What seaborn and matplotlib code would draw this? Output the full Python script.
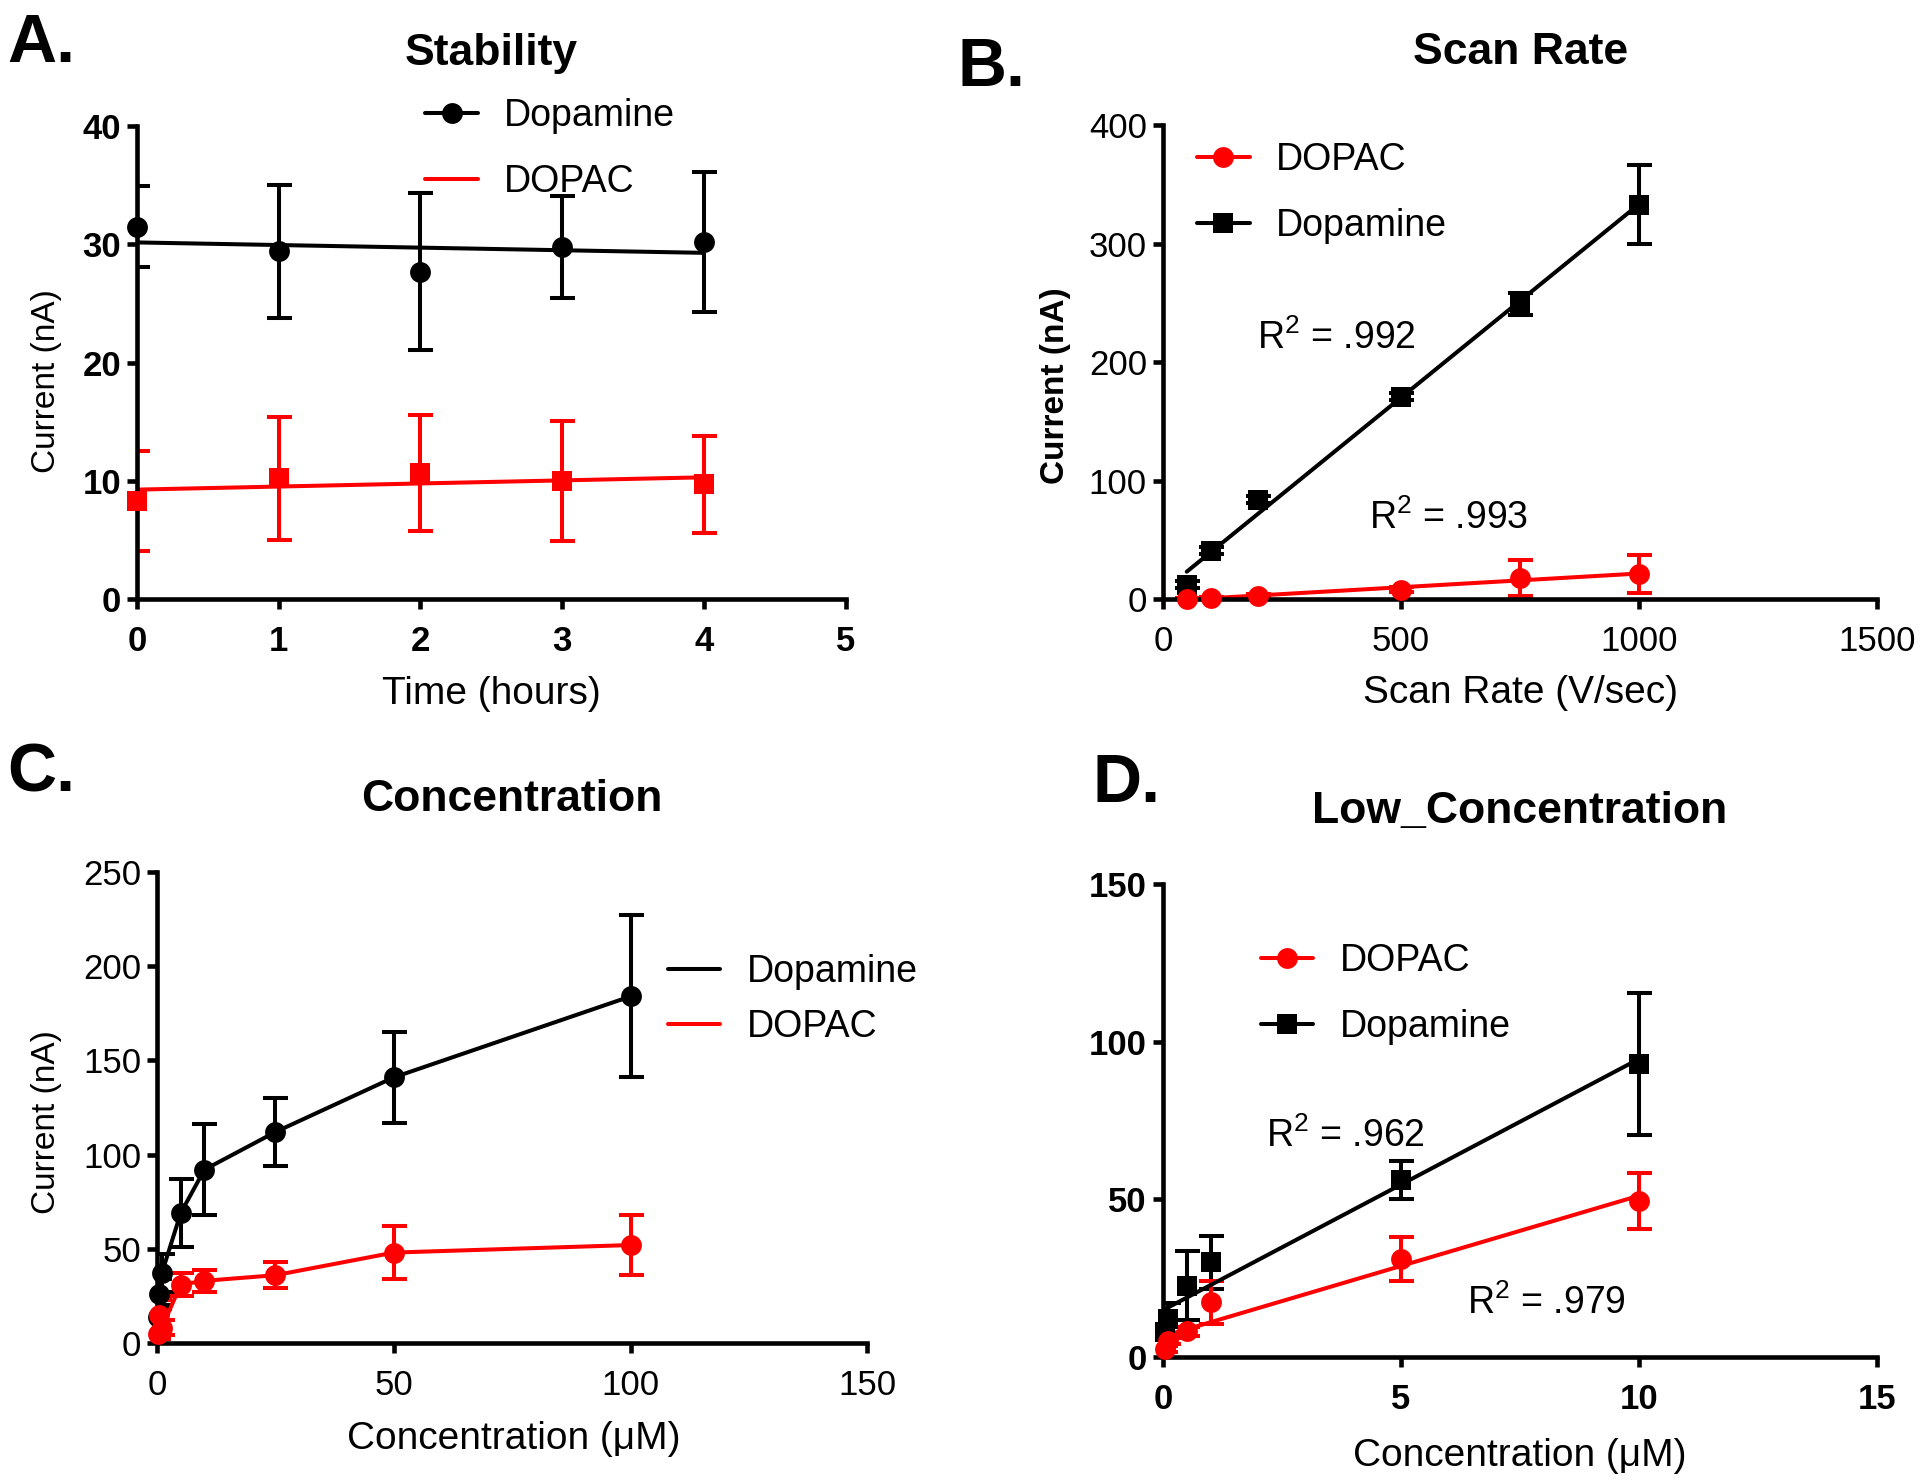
import matplotlib
matplotlib.use("Agg")
import matplotlib.pyplot as plt
import seaborn as sns
from matplotlib.lines import Line2D

# ---- A. Stability ----
stab_hours = [0, 1, 2, 3, 4]
stab_da = [31.5, 29.4, 27.7, 29.8, 30.2]
stab_da_err = [3.4, 5.6, 6.6, 4.3, 5.9]
stab_dopac = [8.3, 10.2, 10.7, 10.0, 9.7]
stab_dopac_err = [4.2, 5.2, 4.9, 5.1, 4.1]

# ---- B. Scan rate ----
scan_rate = [50, 100, 200, 500, 750, 1000]
scan_da = [12, 41, 84, 171, 249, 333]
scan_da_err = [3, 3, 3, 3, 9, 33]
scan_dopac = [0, 1, 3, 8, 18, 21]
scan_dopac_err = [1, 1, 1, 2, 15, 16]

# ---- C. Concentration ----
conc = [0.1, 0.5, 1, 5, 10, 25, 50, 100]
conc_da = [14, 26, 37, 69, 92, 112, 141, 184]
conc_da_err = [6, 8, 10, 18, 24, 18, 24, 43]
conc_dopac = [5, 15, 8, 31, 33, 36, 48, 52]
conc_dopac_err = [3, 8, 4, 6, 6, 7, 14, 16]

# ---- D. Low concentration ----
low_conc = [0.05, 0.1, 0.5, 1, 5, 10]
low_da = [8, 12, 22.6, 30, 56, 93]
low_da_err = [4, 5, 11, 8.5, 6, 22.5]
low_dopac = [2.6, 5, 8.1, 17.4, 31, 49.5]
low_dopac_err = [1, 1, 1.5, 6.8, 7, 8.8]

RED = "#ff0000"
BLACK = "#000000"
LW = 2.9          # data lines / error bars
AX_LW = 3.3       # spines and ticks
MS_CIRCLE = 15
MS_SQUARE = 14
TICK_FS = 25
YLABEL_FS = 24
XLABEL_FS = 28
LEG_FS = 27
TITLE_FS = 32

sns.set_theme(style="ticks")
plt.rcParams["font.family"] = ["Liberation Sans", "DejaVu Sans"]
plt.rcParams["mathtext.fontset"] = "custom"
plt.rcParams["mathtext.rm"] = "Liberation Sans"
# GraphPad-style pure black text instead of seaborn's dark grey
plt.rcParams["text.color"] = BLACK
plt.rcParams["axes.labelcolor"] = BLACK
plt.rcParams["axes.titlecolor"] = BLACK
plt.rcParams["xtick.color"] = BLACK
plt.rcParams["ytick.color"] = BLACK

fig = plt.figure(figsize=(19.2, 14.83), dpi=100)
axA = fig.add_axes([0.0714, 0.596, 0.369, 0.319])
axB = fig.add_axes([0.6057, 0.596, 0.372, 0.3196])
axC = fig.add_axes([0.0818, 0.0944, 0.370, 0.3176])
axD = fig.add_axes([0.6057, 0.085, 0.372, 0.319])


def points(ax, x, y, err, color, marker):
    ax.errorbar(x, y, yerr=err, fmt="none", ecolor=color, elinewidth=LW,
                capsize=9, capthick=LW, zorder=2)
    size = MS_CIRCLE if marker == "o" else MS_SQUARE
    sns.scatterplot(x=x, y=y, ax=ax, color=color, marker=marker,
                    s=size ** 2, linewidth=0, zorder=3, clip_on=False,
                    legend=False)


def fit(ax, x, y, color):
    sns.regplot(x=x, y=y, ax=ax, ci=None, scatter=False, color=color,
                line_kws={"lw": LW, "zorder": 2.5})


def style(ax, xlim, xticks, ylim, yticks, bold):
    ax.set_xlim(*xlim)
    ax.set_ylim(*ylim)
    ax.set_xticks(xticks)
    ax.set_yticks(yticks)
    sns.despine(ax=ax)
    for s in ["left", "bottom"]:
        ax.spines[s].set_linewidth(AX_LW)
        ax.spines[s].set_color(BLACK)
    ax.tick_params(axis="both", width=AX_LW, length=7.5, labelsize=TICK_FS,
                   color=BLACK, labelcolor=BLACK)
    ax.tick_params(axis="x", pad=11)
    ax.tick_params(axis="y", pad=4)
    if bold:
        for lab in ax.get_xticklabels() + ax.get_yticklabels():
            lab.set_fontweight("bold")


def legend(ax, handles, labels, anchor, spacing=0.8):
    ax.legend(handles, labels, loc="upper left", bbox_to_anchor=anchor,
              frameon=False, fontsize=LEG_FS, handlelength=1.4,
              handletextpad=0.7, labelspacing=spacing, borderpad=0,
              borderaxespad=0, labelcolor=BLACK)


def labels(ax, xlabel, ylabel, xy, yy, ylab_bold=False):
    if xlabel:
        ax.set_xlabel(xlabel, fontsize=XLABEL_FS, va="center", color=BLACK)
        ax.xaxis.set_label_coords(*xy)
    if ylabel:
        ax.set_ylabel(ylabel, fontsize=YLABEL_FS, va="center", color=BLACK,
                      fontweight="bold" if ylab_bold else "normal")
        ax.yaxis.set_label_coords(*yy)


def line(color, marker=None):
    return Line2D([], [], color=color, lw=LW, marker=marker,
                  markersize=MS_CIRCLE if marker == "o" else MS_SQUARE,
                  markeredgewidth=0)


R2 = r"R$^{\mathregular{2}}$ = "

# A
points(axA, stab_hours, stab_da, stab_da_err, BLACK, "o")
points(axA, stab_hours, stab_dopac, stab_dopac_err, RED, "s")
fit(axA, stab_hours, stab_da, BLACK)
fit(axA, stab_hours, stab_dopac, RED)
style(axA, (0, 5), range(0, 6), (0, 40), range(0, 41, 10), True)
axA.set_title("Stability", fontsize=TITLE_FS, fontweight="bold", pad=44)
labels(axA, "Time (hours)", "Current (nA)", (0.5, -0.2), (-0.128, 0.46))
legend(axA, [line(BLACK, "o"), line(RED)], ["Dopamine", "DOPAC"], (0.407, 1.06))

# B
points(axB, scan_rate, scan_da, scan_da_err, BLACK, "s")
points(axB, scan_rate, scan_dopac, scan_dopac_err, RED, "o")
fit(axB, scan_rate, scan_da, BLACK)
fit(axB, scan_rate, scan_dopac, RED)
style(axB, (0, 1500), range(0, 1501, 500), (0, 400), range(0, 401, 100), False)
axB.set_title("Scan Rate", fontsize=TITLE_FS, fontweight="bold", pad=44)
labels(axB, "Scan Rate (V/sec)", "Current (nA)", (0.5, -0.198), (-0.151, 0.45), True)
legend(axB, [line(RED, "o"), line(BLACK, "s")], ["DOPAC", "Dopamine"], (0.048, 0.965))
axB.text(198, 220, R2 + ".992", fontsize=LEG_FS, va="center")
axB.text(432, 68, R2 + ".993", fontsize=LEG_FS, va="center")

# C
sns.lineplot(x=conc, y=conc_da, ax=axC, color=BLACK, lw=LW, zorder=2.5)
sns.lineplot(x=conc, y=conc_dopac, ax=axC, color=RED, lw=LW, zorder=2.5)
points(axC, conc, conc_da, conc_da_err, BLACK, "o")
points(axC, conc, conc_dopac, conc_dopac_err, RED, "o")
style(axC, (0, 150), range(0, 151, 50), (0, 250), range(0, 251, 50), False)
axC.set_title("Concentration", fontsize=TITLE_FS, fontweight="bold", pad=44)
labels(axC, "Concentration (\u03bcM)", "Current (nA)", (0.502, -0.204), (-0.156, 0.47))
legend(axC, [line(BLACK), line(RED)], ["Dopamine", "DOPAC"], (0.719, 0.826), spacing=0.5)

# D
points(axD, low_conc, low_da, low_da_err, BLACK, "s")
points(axD, low_conc, low_dopac, low_dopac_err, RED, "o")
fit(axD, low_conc, low_da, BLACK)
fit(axD, low_conc, low_dopac, RED)
style(axD, (0, 15), range(0, 16, 5), (0, 150), range(0, 151, 50), True)
axD.set_title("Low_Concentration", fontsize=TITLE_FS, fontweight="bold", pad=44)
labels(axD, "Concentration (\u03bcM)", None, (0.5, -0.209), None)
legend(axD, [line(RED, "o"), line(BLACK, "s")], ["DOPAC", "Dopamine"], (0.137, 0.875))
axD.text(2.17, 70, R2 + ".962", fontsize=LEG_FS, va="center")
axD.text(6.39, 17, R2 + ".979", fontsize=LEG_FS, va="center")

for txt, x, y in [("A.", 0.004, 0.992), ("B.", 0.4985, 0.976),
                  ("C.", 0.004, 0.5), ("D.", 0.569, 0.493)]:
    fig.text(x, y, txt, fontsize=49, fontweight="bold", va="top", ha="left",
             color=BLACK)

fig.savefig("out.png", dpi=100)
